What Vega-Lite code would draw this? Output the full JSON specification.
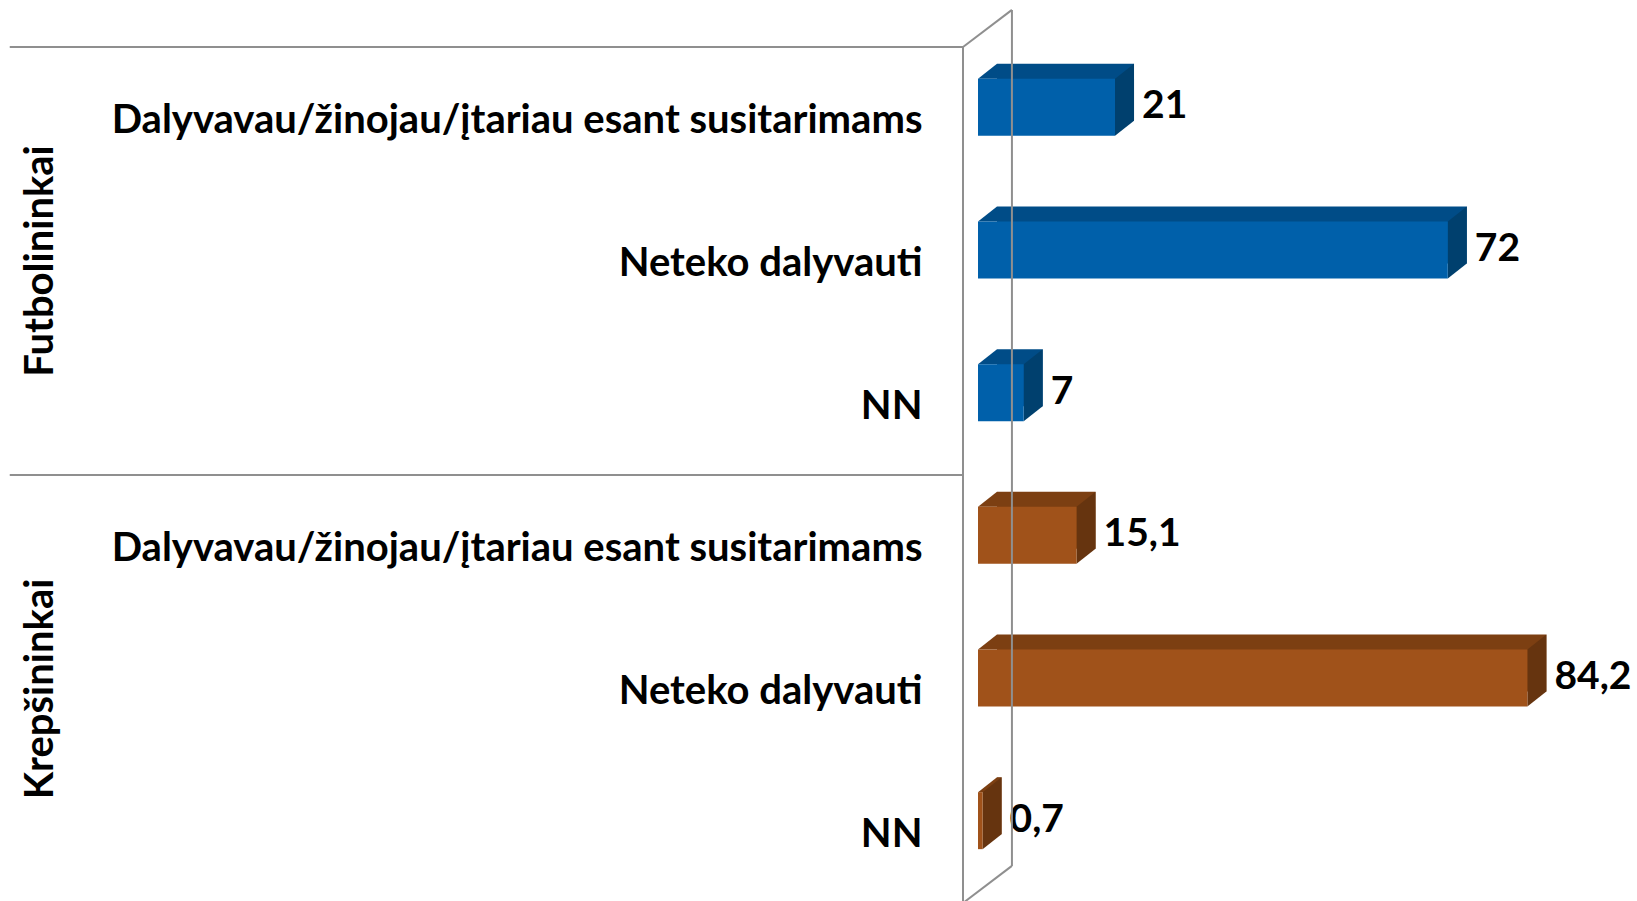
{
  "$schema": "https://vega.github.io/schema/vega-lite/v6.json",
  "width": 674,
  "height": 856,
  "autosize": {"type": "none"},
  "padding": {"left": 963, "top": 47, "right": 0, "bottom": 0},
  "background": "white",
  "config": {
    "view": {"stroke": null},
    "locale": {"number": {"decimal": ",", "thousands": "\u00a0", "grouping": [3], "currency": ["", "\u00a0€"]}}
  },
  "data": {
    "values": [
      {"group": "Futbolininkai", "cat": "Futbolininkai|Dalyvavau/žinojau/įtariau esant susitarimams", "value": 21},
      {"group": "Futbolininkai", "cat": "Futbolininkai|Neteko dalyvauti", "value": 72},
      {"group": "Futbolininkai", "cat": "Futbolininkai|NN", "value": 7},
      {"group": "Krepšininkai", "cat": "Krepšininkai|Dalyvavau/žinojau/įtariau esant susitarimams", "value": 15.1},
      {"group": "Krepšininkai", "cat": "Krepšininkai|Neteko dalyvauti", "value": 84.2},
      {"group": "Krepšininkai", "cat": "Krepšininkai|NN", "value": 0.7}
    ]
  },
  "layer": [
    {
      "encoding": {
        "y": {
          "field": "cat", "type": "nominal", "sort": null,
          "scale": {"paddingInner": 0, "paddingOuter": 0},
          "axis": {
            "title": null, "domain": false, "ticks": false,
            "labelExpr": "split(datum.label, '|')[1]",
            "labelFont": "Lato", "labelFontWeight": "bold", "labelFontSize": 40,
            "labelColor": "#000000", "labelLimit": 0, "labelPadding": 41, "labelOffset": 3
          }
        },
        "x": {"field": "value", "type": "quantitative", "scale": {"domain": [-2.3, 101]}, "axis": null}
      },
      "layer": [
        {
          "mark": {"type": "bar", "size": 57, "xOffset": 19, "x2Offset": 19, "yOffset": -26, "y2Offset": -26},
          "encoding": {"color": {"condition": {"test": "datum.group === 'Futbolininkai'", "value": "#004C87"}, "value": "#7C3F12"}}
        },
        {
          "mark": {"type": "point", "filled": true, "opacity": 1, "size": 4, "strokeWidth": 0, "yOffset": -11, "shape": "M0,-28.5L19,-43.5L19,-28.5Z"},
          "encoding": {
            "x": {"datum": 0, "type": "quantitative", "scale": {"domain": [-2.3, 101]}},
            "color": {"condition": {"test": "datum.group === 'Futbolininkai'", "value": "#004C87"}, "value": "#7C3F12"}
          }
        },
        {
          "mark": {"type": "point", "filled": true, "opacity": 1, "size": 4, "strokeWidth": 0, "yOffset": -11, "shape": "M0,-28.5L19,-43.5L19,13.5L0,28.5Z"},
          "encoding": {"color": {"condition": {"test": "datum.group === 'Futbolininkai'", "value": "#00406E"}, "value": "#66340F"}}
        },
        {
          "mark": {"type": "bar", "size": 57, "yOffset": -11, "y2Offset": -11},
          "encoding": {"color": {"condition": {"test": "datum.group === 'Futbolininkai'", "value": "#0060AA"}, "value": "#A0521A"}}
        },
        {
          "mark": {"type": "text", "align": "left", "baseline": "middle", "dx": 27, "yOffset": -12, "font": "Lato", "fontWeight": "bold", "fontSize": 39, "color": "#000000"},
          "encoding": {"text": {"field": "value", "type": "quantitative"}}
        },
        {
          "transform": [{"filter": "indexof(datum.cat, 'Neteko') >= 0"}],
          "mark": {"type": "text", "align": "center", "baseline": "middle", "angle": 270, "font": "Lato", "fontWeight": "bold", "fontSize": 40, "color": "#000000"},
          "encoding": {
            "x": {"datum": -143.6, "type": "quantitative", "scale": {"domain": [-2.3, 101]}},
            "text": {"field": "group", "type": "nominal"}
          }
        }
      ]
    },
    {
      "data": {"values": [{}]},
      "layer": [
        {
          "mark": {"type": "rule", "color": "#8F8F8F", "strokeWidth": 2},
          "encoding": {
            "x": {"datum": -148.4, "type": "quantitative", "scale": {"domain": [-2.3, 101]}, "axis": null},
            "x2": {"datum": -2.3},
            "y": {"datum": 0, "type": "quantitative", "scale": {"domain": [0, 6], "reverse": true}, "axis": null}
          }
        },
        {
          "mark": {"type": "rule", "color": "#8F8F8F", "strokeWidth": 2},
          "encoding": {
            "x": {"datum": -148.4, "type": "quantitative", "scale": {"domain": [-2.3, 101]}, "axis": null},
            "x2": {"datum": -2.3},
            "y": {"datum": 3, "type": "quantitative", "scale": {"domain": [0, 6], "reverse": true}, "axis": null}
          }
        },
        {
          "mark": {"type": "rule", "color": "#8F8F8F", "strokeWidth": 2},
          "encoding": {
            "x": {"datum": -2.3, "type": "quantitative", "scale": {"domain": [-2.3, 101]}, "axis": null},
            "y": {"datum": 0, "type": "quantitative", "scale": {"domain": [0, 6], "reverse": true}, "axis": null},
            "y2": {"datum": 6.2}
          }
        },
        {
          "mark": {"type": "rule", "color": "#8F8F8F", "strokeWidth": 2},
          "encoding": {
            "x": {"datum": -2.3, "type": "quantitative", "scale": {"domain": [-2.3, 101]}, "axis": null},
            "x2": {"datum": 5.2},
            "y": {"datum": 0, "type": "quantitative", "scale": {"domain": [0, 6], "reverse": true}, "axis": null},
            "y2": {"datum": -0.26}
          }
        },
        {
          "mark": {"type": "rule", "color": "#8F8F8F", "strokeWidth": 2},
          "encoding": {
            "x": {"datum": 5.2, "type": "quantitative", "scale": {"domain": [-2.3, 101]}, "axis": null},
            "y": {"datum": -0.26, "type": "quantitative", "scale": {"domain": [0, 6], "reverse": true}, "axis": null},
            "y2": {"datum": 5.74}
          }
        },
        {
          "mark": {"type": "rule", "color": "#8F8F8F", "strokeWidth": 2},
          "encoding": {
            "x": {"datum": 5.2, "type": "quantitative", "scale": {"domain": [-2.3, 101]}, "axis": null},
            "x2": {"datum": -2.3},
            "y": {"datum": 5.74, "type": "quantitative", "scale": {"domain": [0, 6], "reverse": true}, "axis": null},
            "y2": {"datum": 6.0}
          }
        }
      ]
    }
  ],
  "resolve": {"scale": {"y": "independent"}}
}
